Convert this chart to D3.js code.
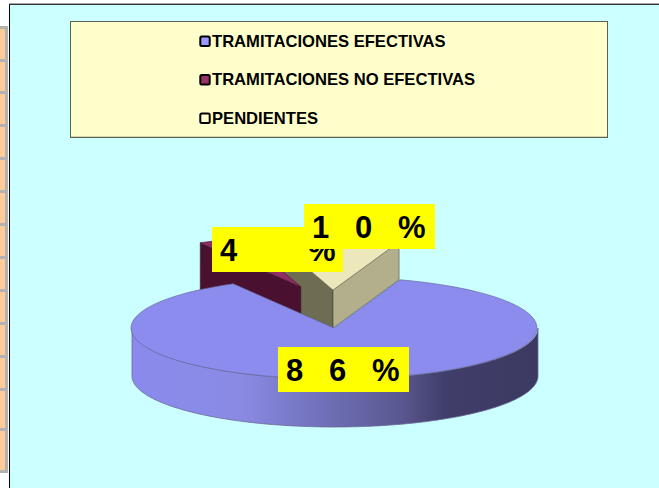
<!DOCTYPE html>
<html>
<head>
<meta charset="utf-8">
<script src="https://cdn.jsdelivr.net/npm/d3@7"></script>
<style>
html, body { margin: 0; padding: 0; background: #fff; }
svg { display: block; }
text { font-family: "Liberation Sans", Arial, sans-serif; font-weight: bold; fill: #000; }
</style>
</head>
<body>
<svg id="chart" width="659" height="488"></svg>
<script>
const categories = ["TRAMITACIONES EFECTIVAS", "TRAMITACIONES NO EFECTIVAS", "PENDIENTES"];
const values = [86.45, 3.7, 9.85]; // labels show them rounded
const swatches = ["#9999ff", "#993366", "#ffffcc"];
const stripRows = [30, 29, 30, 30, 30, 30, 30, 30, 30, 30, 30, 37, 39];

const svg = d3.select("#chart");
const width = 659, height = 488;

// left strip, what is left of the spreadsheet behind the chart
svg.append("rect").attr("x", 0).attr("y", 26).attr("width", 8).attr("height", 447).attr("fill", "#b2b2b2");
let rowY = 29;
stripRows.forEach(h => {
  svg.append("rect").attr("x", 0).attr("y", rowY).attr("width", 5).attr("height", h).attr("fill", "#ffcc99");
  rowY += h + 3;
});

// chart area
svg.append("rect").attr("x", 9).attr("y", 3).attr("width", width - 9).attr("height", 1).attr("fill", "#a6a6a6");
svg.append("rect").attr("x", 9).attr("y", 4).attr("width", width - 9).attr("height", height - 4).attr("fill", "#333");
svg.append("rect").attr("x", 10).attr("y", 5).attr("width", width - 10).attr("height", height - 5).attr("fill", "#ccffff");
svg.append("rect").attr("x", 9).attr("y", 5).attr("width", 1).attr("height", height - 5).attr("fill", "#000");

// legend
svg.append("rect").attr("x", 70.5).attr("y", 21.5).attr("width", 537).attr("height", 116)
  .attr("fill", "#ffffcc").attr("stroke", "#5f5f55").attr("stroke-width", 1);
svg.append("rect").attr("x", 71).attr("y", 136).attr("width", 536).attr("height", 1).attr("fill", "#d8d8a6");

const legendY = d3.scalePoint().domain(categories).range([41, 118]);
const legend = svg.append("g").selectAll("g").data(categories).enter().append("g")
  .attr("transform", d => `translate(0,${legendY(d)})`);
legend.append("rect").attr("x", 200.3).attr("y", -4.4).attr("width", 9.4).attr("height", 9.4).attr("rx", 1.5)
  .attr("fill", (d, i) => swatches[i]).attr("stroke", "#000").attr("stroke-width", 2);
legend.append("text").attr("x", 212).attr("y", 5.7).attr("font-size", 16.6).text(d => d);

// pie geometry
const cx = 335, cy = 328, rx = 203, ry = 51, depth = 48;
const startAngle = 19 * Math.PI / 180;
const pie = d3.pie().sort(null).startAngle(startAngle).endAngle(startAngle + 2 * Math.PI);
const arcs = pie(values);
const arc = d3.arc().innerRadius(0).outerRadius(rx);
const rim = a => [rx * Math.sin(a), -ry * Math.cos(a)];

const [mainArc, noArc, pendArc] = arcs;
const line = d3.line();

// raised slices, offset from the centre
const noAt = [-34, -41], pendAt = [-2, -38];

function wall(at, a, h, fill) {
  const p = rim(a);
  const ax = cx + at[0], ay = cy + at[1];
  svg.append("path")
    .attr("d", line([[ax, ay], [ax + p[0], ay + p[1]], [ax + p[0], ay + p[1] + h], [ax, ay + h]]) + "Z")
    .attr("fill", fill).attr("stroke", "#3a3a30").attr("stroke-width", 0.5);
}
function topFace(at, d, fill, edge) {
  svg.append("g").attr("transform", `translate(${cx + at[0]},${cy + at[1]}) scale(1,${ry / rx})`)
    .append("path").attr("d", arc(d)).attr("fill", fill)
    .attr("stroke", edge).attr("stroke-width", 0.6).attr("vector-effect", "non-scaling-stroke");
}

wall(pendAt, pendArc.startAngle, 60, "#6e6c52");
wall(pendAt, pendArc.endAngle, 38, "#b3af8c");
topFace(pendAt, pendArc, "#ece8bb", "#6e6c52");
wall(noAt, noArc.startAngle, depth, "#4a1030");
topFace(noAt, noArc, "#8e2c66", "#4a1030");

// side of the big slice
const defs = svg.append("defs");
const grad = defs.append("linearGradient").attr("id", "side").attr("gradientUnits", "userSpaceOnUse")
  .attr("x1", cx - rx).attr("x2", cx + rx).attr("y1", 0).attr("y2", 0);
[[0, "#8a8aee"], [0.27, "#8a8ae4"], [0.42, "#7676c4"], [0.66, "#5a5890"], [0.77, "#403e6a"], [1, "#3c3a62"]].forEach(s => {
  grad.append("stop").attr("offset", s[0]).attr("stop-color", s[1]);
});
const sideArea = d3.area()
  .x(a => cx + rim(a)[0])
  .y0(a => cy + rim(a)[1])
  .y1(a => cy + rim(a)[1] + depth);
svg.append("path").attr("d", sideArea(d3.range(90, 270.5, 1).map(a => a * Math.PI / 180)))
  .attr("fill", "url(#side)").attr("stroke", "#6a6a94").attr("stroke-width", 0.8);

topFace([-1, 0], mainArc, "#8c8cee", "#62628e");

// data labels, yellow boxes
const labelBoxes = [[278, 347], [212, 227], [304, 204]];
const labelGlyphs = { 86: [8, 51, 94], 4: [8, 96], 10: [8, 51, 94] };
labelBoxes.forEach((box, i) => {
  const label = Math.round(values[i]);
  const g = svg.append("g").attr("transform", `translate(${box[0]},${box[1]})`);
  g.append("rect").attr("width", 131).attr("height", 45).attr("fill", "#ffff00");
  g.append("text").attr("y", 34).attr("font-size", 31)
    .attr("x", labelGlyphs[label].join(" "))
    .text(label + "%");
});
</script>
</body>
</html>
